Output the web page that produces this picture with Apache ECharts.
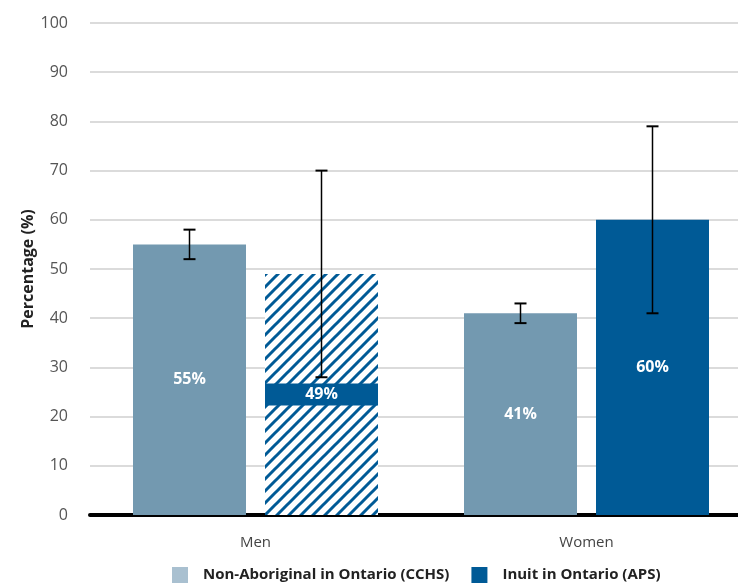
<!DOCTYPE html>
<html>
<head>
<meta charset="utf-8">
<script src="https://cdn.jsdelivr.net/npm/echarts@6/dist/echarts.min.js"></script>
<style>
  html, body { margin: 0; padding: 0; background: #fff; }
  #chart { width: 738px; height: 584px; }
</style>
</head>
<body>
<div id="chart"></div>
<script>
const categories = ["Men", "Women"];
const nonAboriginal = [55, 41];
const inuit = [49, 60];
const nonAboriginalLow = [52, 39];
const nonAboriginalHigh = [58, 43];
const inuitLow = [28, 41];
const inuitHigh = [70, 79];
const yTicks = [0, 10, 20, 30, 40, 50, 60, 70, 80, 90, 100];

const LIGHT = "#7399b0";
const DARK = "#005a96";
const BAR_W = 113;
const BAR_GAP = 19;
const FONT = "'Open Sans', 'Noto Sans', sans-serif";

// hatched tile for the unreliable estimate
function hatchTile() {
  const c = document.createElement("canvas");
  c.width = 12; c.height = 12;
  const ctx = c.getContext("2d");
  ctx.fillStyle = "#fff";
  ctx.fillRect(0, 0, 12, 12);
  ctx.strokeStyle = DARK;
  ctx.lineWidth = 3;
  ctx.beginPath();
  ctx.moveTo(-3, 15); ctx.lineTo(15, -3);
  ctx.moveTo(-3, 3); ctx.lineTo(3, -3);
  ctx.moveTo(9, 15); ctx.lineTo(15, 9);
  ctx.stroke();
  return c;
}

const chart = echarts.init(document.getElementById("chart"));

function errorSeries(low, high, offset) {
  return {
    type: "custom",
    silent: true,
    z: 10,
    data: categories.map((c, i) => [i, low[i], high[i]]),
    renderItem: function (params, api) {
      const lo = api.coord([api.value(0), api.value(1)]);
      const hi = api.coord([api.value(0), api.value(2)]);
      const x = lo[0] + offset;
      const cap = 6;
      return {
        type: "group",
        children: [
          { type: "line", shape: { x1: x, y1: lo[1], x2: x, y2: hi[1] }, style: { stroke: "#000", lineWidth: 1.5 } },
          { type: "line", shape: { x1: x - cap, y1: lo[1], x2: x + cap, y2: lo[1] }, style: { stroke: "#000", lineWidth: 2 } },
          { type: "line", shape: { x1: x - cap, y1: hi[1], x2: x + cap, y2: hi[1] }, style: { stroke: "#000", lineWidth: 2 } }
        ]
      };
    }
  };
}

const off = (BAR_W + BAR_GAP) / 2;

chart.setOption({
  animation: false,
  textStyle: { fontFamily: FONT },
  grid: { left: 90, top: 23, width: 662, bottom: 69, outerBoundsMode: "none" },
  legend: {
    top: 562,
    left: 167,
    itemWidth: 16,
    itemHeight: 16,
    itemGap: 22,
    icon: "rect",
    textStyle: { fontSize: 15, fontWeight: "bold", color: "#222", fontFamily: FONT, padding: [0, 0, 0, 10] },
    data: [
      { name: "Non-Aboriginal in Ontario (CCHS)", itemStyle: { color: "#a9c0d0" } },
      { name: "Inuit in Ontario (APS)", itemStyle: { color: DARK } }
    ]
  },
  xAxis: {
    type: "category",
    data: categories,
    axisTick: { show: false },
    axisLine: { lineStyle: { color: "#000", width: 4 } },
    axisLabel: { fontSize: 15, color: "#444", margin: 20 }
  },
  yAxis: {
    type: "value",
    min: 0,
    max: 100,
    interval: 10,
    name: "Percentage (%)",
    nameLocation: "middle",
    nameGap: 54,
    nameMoveOverlap: false,
    nameTextStyle: { fontSize: 16, fontWeight: "bold", color: "#222" },
    axisLine: { show: false },
    axisTick: { show: false },
    axisLabel: {
      fontSize: 16, color: "#555", margin: 22,
      formatter: v => (yTicks.includes(v) ? String(v) : "")
    },
    splitLine: { lineStyle: { color: "#cfcfcf", width: 1.5 } }
  },
  series: [
    {
      name: "Non-Aboriginal in Ontario (CCHS)",
      type: "bar",
      barWidth: BAR_W,
      barGap: (BAR_GAP / BAR_W * 100) + "%",
      itemStyle: { color: LIGHT },
      label: {
        show: true, position: "inside", color: "#fff",
        fontSize: 16, fontWeight: "bold", formatter: "{c}%"
      },
      data: nonAboriginal
    },
    {
      name: "Inuit in Ontario (APS)",
      type: "bar",
      barWidth: BAR_W,
      itemStyle: { color: DARK },
      label: {
        show: true, position: "inside", color: "#fff",
        fontSize: 16, fontWeight: "bold", formatter: "{c}%"
      },
      data: inuit.map((v, i) => i === 0 ? {
        value: v,
        itemStyle: { color: { image: hatchTile(), repeat: "repeat" } },
        label: {
          backgroundColor: DARK, width: BAR_W, align: "center",
          lineHeight: 22, height: 22
        }
      } : v)
    },
    errorSeries(nonAboriginalLow, nonAboriginalHigh, -off),
    errorSeries(inuitLow, inuitHigh, off)
  ]
});
</script>
</body>
</html>
